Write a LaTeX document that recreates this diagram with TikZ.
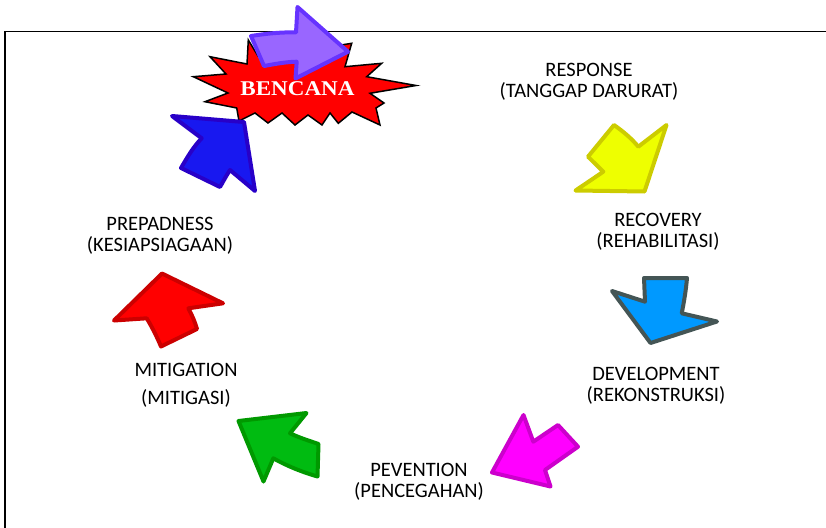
\documentclass[tikz,border=0pt]{standalone}
\usepackage{fontspec}
\setmainfont{Carlito}
\newfontfamily\bencanafont{Liberation Serif}
\definecolor{purfill}{RGB}{153,102,255}
\definecolor{purline}{RGB}{102,51,255}
\definecolor{blufill}{RGB}{24,24,240}
\definecolor{bluline}{RGB}{40,0,200}
\definecolor{yelfill}{RGB}{238,255,0}
\definecolor{yelline}{RGB}{204,204,0}
\definecolor{cyafill}{RGB}{0,153,255}
\definecolor{cyaline}{RGB}{68,85,85}
\definecolor{magfill}{RGB}{255,0,255}
\definecolor{magline}{RGB}{204,0,204}
\definecolor{grefill}{RGB}{0,187,17}
\definecolor{greline}{RGB}{0,153,0}
\definecolor{redfill}{RGB}{255,0,0}
\definecolor{redline}{RGB}{204,0,0}
\tikzset{
  blockarrow/.style={line width=4pt, line join=round},
  lbl/.style={font=\fontsize{20.5}{21}\selectfont, align=center, inner sep=0pt, anchor=base}
}
\begin{document}
\begin{tikzpicture}[x=1pt,y=-1pt]
\useasboundingbox (0,0) rectangle (826,527);
% frame
\draw[line width=1.8pt] (5,530) -- (5,31.5) -- (830,31.5);
% starburst
\draw[fill=redfill, line width=1.5pt, line join=miter]
  (193.3,76.7) -- (226,74) -- (210,56.7) -- (247,64) -- (248.3,40)
  -- (258,56) -- (280,45) -- (310,50) -- (351.7,43.3) -- (345,66.7)
  -- (381.7,63.3) -- (366.7,76.7) -- (416,85.5) -- (370,93.3) -- (384,103)
  -- (376,108) -- (380,125) -- (352,112) -- (338.3,123.3) -- (330,113) -- (322,125)
  -- (308,115) -- (295,125) -- (282,113) -- (268,123) -- (255,113)
  -- (239,121) -- (236.7,108) -- (205,101.7) -- (228,93) -- cycle;
\node[font=\bencanafont\bfseries\fontsize{21}{24}\selectfont, text=white, inner sep=0pt, anchor=base] (bencana) at (297.5,95.5) {\scalebox{1.1}[1]{BENCANA}};
% purple arrow (Bencana -> Response)
\draw[blockarrow, fill=purfill, draw=purline]
  (251,36) .. controls (270,33) and (285,32) .. (296,32.5) -- (297.5,7) -- (348,51.7)
  -- (295.5,78.5) -- (296.7,61.7) .. controls (285,62) and (275,64) .. (264,66) -- cycle;
% blue arrow (Prepadness -> Bencana)
\draw[blockarrow, fill=blufill, draw=bluline]
  (244,122) -- (255,191) -- (230,170) .. controls (226,176) and (223,182) .. (220,187)
  -- (181,168) .. controls (188,156) and (194,146) .. (201.7,138.3) -- (172,116) -- cycle;
% yellow arrow (Response -> Recovery)
\draw[blockarrow, fill=yelfill, draw=yelline]
  (614,125) .. controls (624,132) and (632,139) .. (638.3,146.7) -- (666.5,125) -- (644.5,191.5)
  -- (575.5,190.5) -- (603.3,171.7) -- (588,156.7) -- cycle;
% cyan arrow (Recovery -> Development)
\draw[blockarrow, fill=cyafill, draw=cyaline]
  (644,278) -- (687,278) .. controls (686,290) and (684,302) .. (681.7,313.3) -- (717,321.5)
  -- (650.5,343) -- (612,291) -- (645,301.7) -- cycle;
% magenta arrow (Development -> Prevention)
\draw[blockarrow, fill=magfill, draw=magline]
  (523.5,415) -- (533.3,441.7) -- (558,425) -- (578,446.7) -- (545,470)
  -- (550.5,486.5) -- (492,472.5) -- cycle;
% green arrow (Prevention -> Mitigation)
\draw[blockarrow, fill=grefill, draw=greline]
  (238.5,421) -- (306.5,413) -- (290,433.3) .. controls (300,438) and (310,441) .. (318.5,444)
  -- (317.5,476.5) .. controls (302,472) and (287,466) .. (273.3,458.3) -- (263.5,481.5) -- cycle;
% red arrow (Mitigation -> Prepadness)
\draw[blockarrow, fill=redfill, draw=redline]
  (162,273.5) -- (223,303.3) -- (188.3,308.3) .. controls (192,315) and (195,322) .. (197,329)
  -- (161,346.5) .. controls (157,337) and (152,327) .. (146.7,318.3) -- (114,320.5) -- cycle;
% labels (anchored at the baseline of the last line)
\node[lbl] (response) at (589,97) {RESPONSE\\(TANGGAP DARURAT)};
\node[lbl] (recovery) at (658,247) {RECOVERY\\(REHABILITASI)};
\node[lbl] (prepadness) at (160,251) {PREPADNESS\\(KESIAPSIAGAAN)};
\node[lbl] (mitigation) at (186,404) {MITIGATION\\[7pt](MITIGASI)};
\node[lbl] (development) at (656,401) {DEVELOPMENT\\(REKONSTRUKSI)};
\node[lbl] (prevention) at (419,497) {PEVENTION\\(PENCEGAHAN)};
\end{tikzpicture}
\end{document}
